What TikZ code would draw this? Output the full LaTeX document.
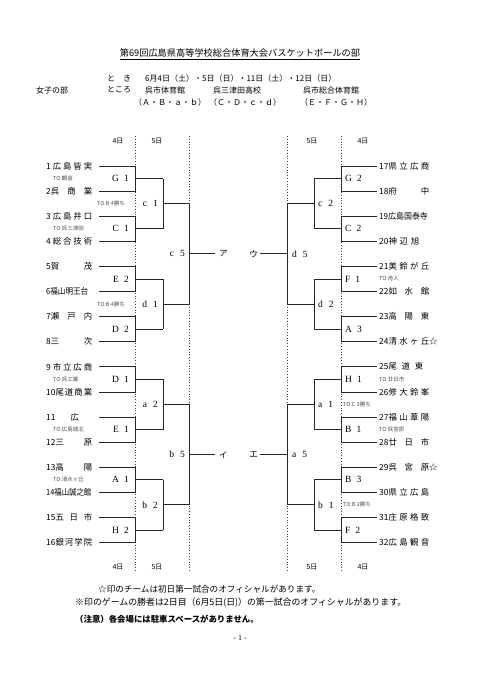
\documentclass[tikz,border=0pt]{standalone}
\usepackage{fontspec}
\usepackage{graphicx}
\setmainfont{Liberation Serif}
\newfontfamily\jp{Noto Sans CJK JP}
\newcommand\tn[2]{\makebox[#1][s]{#2}}
\begin{document}
\begin{tikzpicture}[x=1pt,y=-1pt]
\tikzset{
 br/.style={line width=0.8pt, black!85},
 dl/.style={line width=0.8pt, dotted, black!75},
 team/.style={font=\jp\fontsize{8.4}{10}\selectfont, inner sep=0, anchor=west},
 lbl/.style={font=\fontsize{9.5}{10}\selectfont, inner sep=0},
 tolbl/.style={font=\jp\fontsize{5.5}{6}\selectfont, inner sep=0, anchor=west, black!70},
 day/.style={font=\jp\fontsize{7}{8}\selectfont, inner sep=0},
 hdr/.style={font=\jp\fontsize{8}{10}\selectfont, inner sep=0, anchor=west},
}
\useasboundingbox[fill=white] (0,0) rectangle (481,680);

% header
\node[font=\jp\fontsize{9.2}{10}\selectfont, inner sep=0] (title) at (240,53) {第69回広島県高等学校総合体育大会バスケットボールの部};
\draw[line width=0.6pt] ([yshift=-1.5pt]title.south west) -- ([yshift=-1.5pt]title.south east);
\node[hdr] (toki) at (107,78) {と\hspace{8pt}き};
\node[hdr] (date) at (145,78) {6月4日（土）・5日（日）・11日（土）・12日（日）};
\node[hdr] (joshi) at (36,90) {女子の部};
\node[hdr] (tokoro) at (107,90) {ところ};
\node[hdr] (v1) at (145,90) {呉市体育館};
\node[hdr] (v2) at (213,90) {呉三津田高校};
\node[hdr] (v3) at (303,90) {呉市総合体育館};
\node[hdr] (c1x) at (134,102) {（Ａ・Ｂ・ａ・ｂ）};
\node[hdr] (c2x) at (209,102) {（Ｃ・Ｄ・ｃ・ｄ）};
\node[hdr] (c3x) at (300,102) {（Ｅ・Ｆ・Ｇ・Ｈ）};

% dotted day lines
\draw[dl] (135,136) -- (135,572);
\draw[dl] (189,136) -- (189,572);
\draw[dl] (287,136) -- (287,572);
\draw[dl] (341,136) -- (341,572);
\foreach \yy in {141,567}{
 \node[day] at (118,\yy) {4日};
 \node[day] at (157,\yy) {5日};
 \node[day] at (312,\yy) {5日};
 \node[day] at (363,\yy) {4日};
}

% left bracket
\foreach \y in {166,216.2,266.4,316.6,366.8,417,467.2,517.4}{
 \draw[br] (99,\y) -- (135,\y) -- (135,\y+25.1) -- (99,\y+25.1);
 \draw[br] (135,\y+12.55) -- (163,\y+12.55);
}
\foreach \y in {166,266.4,366.8,467.2}{
 \draw[br] (163,\y+12.55) -- (163,\y+62.75);
 \draw[br] (163,\y+37.65) -- (189,\y+37.65);
}
\draw[br] (189,203.65) -- (189,304.05);
\draw[br] (189,404.45) -- (189,504.85);
\draw[br] (189,253.85) -- (215,253.85);
\draw[br] (189,454.65) -- (215,454.65);

% right bracket
\foreach \y in {166,216.2,266.4,316.6,366.8,417,467.2,517.4}{
 \draw[br] (377,\y) -- (341,\y) -- (341,\y+25.1) -- (377,\y+25.1);
 \draw[br] (341,\y+12.55) -- (314,\y+12.55);
}
\foreach \y in {166,266.4,366.8,467.2}{
 \draw[br] (314,\y+12.55) -- (314,\y+62.75);
 \draw[br] (314,\y+37.65) -- (287,\y+37.65);
}
\draw[br] (287,203.65) -- (287,304.05);
\draw[br] (287,404.45) -- (287,504.85);
\draw[br] (287,253.85) -- (260,253.85);
\draw[br] (287,454.65) -- (260,454.65);

% central labels
\node[font=\jp\fontsize{8.5}{10}\selectfont, inner sep=0, anchor=west] (ka) at (219,254) {ア};
\node[font=\jp\fontsize{8.5}{10}\selectfont, inner sep=0, anchor=east] (ku) at (258,254) {ウ};
\node[font=\jp\fontsize{8.5}{10}\selectfont, inner sep=0, anchor=west] (ki) at (219,455) {イ};
\node[font=\jp\fontsize{8.5}{10}\selectfont, inner sep=0, anchor=east] (ke) at (258,455) {エ};

% left match labels
\node[lbl, anchor=east] (mG1) at (129,178.55) {G\hspace{5pt}1};
\node[lbl, anchor=east] (mC1) at (129,228.75) {C\hspace{5pt}1};
\node[lbl, anchor=east] (mE2) at (129,278.95) {E\hspace{5pt}2};
\node[lbl, anchor=east] (mD2) at (129,329.15) {D\hspace{5pt}2};
\node[lbl, anchor=east] (mD1) at (129,379.35) {D\hspace{5pt}1};
\node[lbl, anchor=east] (mE1) at (129,429.55) {E\hspace{5pt}1};
\node[lbl, anchor=east] (mA1) at (129,479.75) {A\hspace{5pt}1};
\node[lbl, anchor=east] (mH2) at (129,529.95) {H\hspace{5pt}2};
\node[lbl, anchor=east] (mc1) at (158,203.65) {c\hspace{6pt}1};
\node[lbl, anchor=east] (md1) at (158,304.05) {d\hspace{6pt}1};
\node[lbl, anchor=east] (ma2) at (158,404.45) {a\hspace{6pt}2};
\node[lbl, anchor=east] (mb2) at (158,504.85) {b\hspace{6pt}2};
\node[lbl, anchor=east] (mc5) at (185,253.85) {c\hspace{6pt}5};
\node[lbl, anchor=east] (mb5) at (185,454.65) {b\hspace{6pt}5};

% right match labels
\node[lbl, anchor=west] (mG2) at (345,178.55) {G\hspace{5pt}2};
\node[lbl, anchor=west] (mC2) at (345,228.75) {C\hspace{5pt}2};
\node[lbl, anchor=west] (mF1) at (345,278.95) {F\hspace{5pt}1};
\node[lbl, anchor=west] (mA3) at (345,329.15) {A\hspace{5pt}3};
\node[lbl, anchor=west] (mH1) at (345,379.35) {H\hspace{5pt}1};
\node[lbl, anchor=west] (mB1) at (345,429.55) {B\hspace{5pt}1};
\node[lbl, anchor=west] (mB3) at (345,479.75) {B\hspace{5pt}3};
\node[lbl, anchor=west] (mF2) at (345,529.95) {F\hspace{5pt}2};
\node[lbl, anchor=west] (mc2) at (318,203.65) {c\hspace{6pt}2};
\node[lbl, anchor=west] (md2) at (318,304.05) {d\hspace{6pt}2};
\node[lbl, anchor=west] (ma1) at (318,404.45) {a\hspace{6pt}1};
\node[lbl, anchor=west] (mb1) at (318,504.85) {b\hspace{6pt}1};
\node[lbl, anchor=west] (md5) at (292,253.85) {d\hspace{6pt}5};
\node[lbl, anchor=west] (ma5) at (292,454.65) {a\hspace{6pt}5};

% left teams
\node[team] (t1) at (46,166) {\tn{46pt}{1\hfill 広\hfill 島\hfill 皆\hfill 実}};
\node[team] (t2) at (46,191.1) {\tn{46pt}{2呉\hfill 商\hfill 業}};
\node[team] (t3) at (46,216.2) {\tn{46pt}{3\hfill 広\hfill 島\hfill 井\hfill 口}};
\node[team] (t4) at (46,241.3) {\tn{46pt}{4\hfill 総\hfill 合\hfill 技\hfill 術}};
\node[team] (t5) at (46,266.4) {\tn{46pt}{5賀\hfill 茂}};
\node[team] (t6) at (46,291.5) {\scalebox{0.9}[1]{6福山明王台}};
\node[team] (t7) at (46,316.6) {\tn{46pt}{7瀬\hfill 戸\hfill 内}};
\node[team] (t8) at (46,341.7) {\tn{46pt}{8三\hfill 次}};
\node[team] (t9) at (46,366.8) {\tn{46pt}{9\hfill 市\hfill 立\hfill 広\hfill 商}};
\node[team] (t10) at (46,391.9) {\tn{46pt}{10尾\hfill 道\hfill 商\hfill 業}};
\node[team] (t11) at (46,417) {11\hspace{15pt}広};
\node[team] (t12) at (46,442.1) {\tn{46pt}{12三\hfill 原}};
\node[team] (t13) at (46,467.2) {\tn{46pt}{13高\hfill 陽}};
\node[team] (t14) at (46,492.3) {\scalebox{0.88}[1]{14福山誠之館}};
\node[team] (t15) at (46,517.4) {\tn{46pt}{15五\hfill 日\hfill 市}};
\node[team] (t16) at (46,542.5) {\tn{46pt}{16銀\hfill 河\hfill 学\hfill 院}};

% right teams
\node[team] (t17) at (379,166) {\tn{50pt}{17県\hfill 立\hfill 広\hfill 商}};
\node[team] (t18) at (379,191.1) {\tn{50pt}{18府\hfill 中}};
\node[team] (t19) at (379,216.2) {\scalebox{0.95}[1]{19広島国泰寺}};
\node[team] (t20) at (379,241.3) {\tn{40pt}{20神\hfill 辺\hfill 旭}};
\node[team] (t21) at (379,266.4) {\tn{50pt}{21美\hfill 鈴\hfill が\hfill 丘}};
\node[team] (t22) at (379,291.5) {\tn{50pt}{22如\hfill 水\hfill 館}};
\node[team] (t23) at (379,316.6) {\tn{50pt}{23高\hfill 陽\hfill 東}};
\node[team] (t24) at (379,341.7) {\tn{50pt}{24清\hfill 水\hfill ヶ\hfill 丘}☆};
\node[team] (t25) at (379,366.8) {\tn{44pt}{25尾\hfill 道\hfill 東}};
\node[team] (t26) at (379,391.9) {\tn{50pt}{26修\hfill 大\hfill 鈴\hfill 峯}};
\node[team] (t27) at (379,417) {\tn{50pt}{27福\hfill 山\hfill 葦\hfill 陽}};
\node[team] (t28) at (379,442.1) {\tn{50pt}{28廿\hfill 日\hfill 市}};
\node[team] (t29) at (379,467.2) {\tn{50pt}{29呉\hfill 宮\hfill 原}☆};
\node[team] (t30) at (379,492.3) {\tn{50pt}{30県\hfill 立\hfill 広\hfill 島}};
\node[team] (t31) at (379,517.4) {\tn{50pt}{31庄\hfill 原\hfill 格\hfill 致}};
\node[team] (t32) at (379,542.5) {\tn{50pt}{32広\hfill 島\hfill 観\hfill 音}};

% TO labels
\node[tolbl] (to1) at (53,178.5) {TO:観音};
\node[tolbl] (to2) at (53,228.7) {TO:呉三津田};
\node[tolbl] (to3) at (97,203.6) {TO:B 4勝ち};
\node[tolbl] (to4) at (97,304) {TO:B 4勝ち};
\node[tolbl] (to5) at (53,379.3) {TO:呉工業};
\node[tolbl] (to6) at (53,429.5) {TO:広島城北};
\node[tolbl] (to7) at (53,479.7) {TO:清水ヶ丘};
\node[tolbl] (to8) at (379,278.9) {TO:舟入};
\node[tolbl] (to9) at (379,379.3) {TO:廿日市};
\node[tolbl] (to10) at (343,404.4) {TO:C 3勝ち};
\node[tolbl] (to11) at (379,429.5) {TO:呉宮原};
\node[tolbl] (to12) at (343,504.8) {TO:B 2勝ち};

% footer
\node[hdr, font=\jp\fontsize{8.6}{10}\selectfont] (n1) at (98,589) {☆印のチームは初日第一試合のオフィシャルがあります。};
\node[hdr, font=\jp\fontsize{8.9}{10}\selectfont] (n2) at (75,603) {※印のゲームの勝者は2日目（6月5日(日)）の第一試合のオフィシャルがあります。};
\node[hdr, font=\jp\bfseries\fontsize{8.4}{10}\selectfont] (n3) at (75,619) {（注意）各会場には駐車スペースがありません。};
\node[font=\fontsize{8}{10}\selectfont, inner sep=0] (pg) at (240,638) {- 1 -};
\end{tikzpicture}
\end{document}
